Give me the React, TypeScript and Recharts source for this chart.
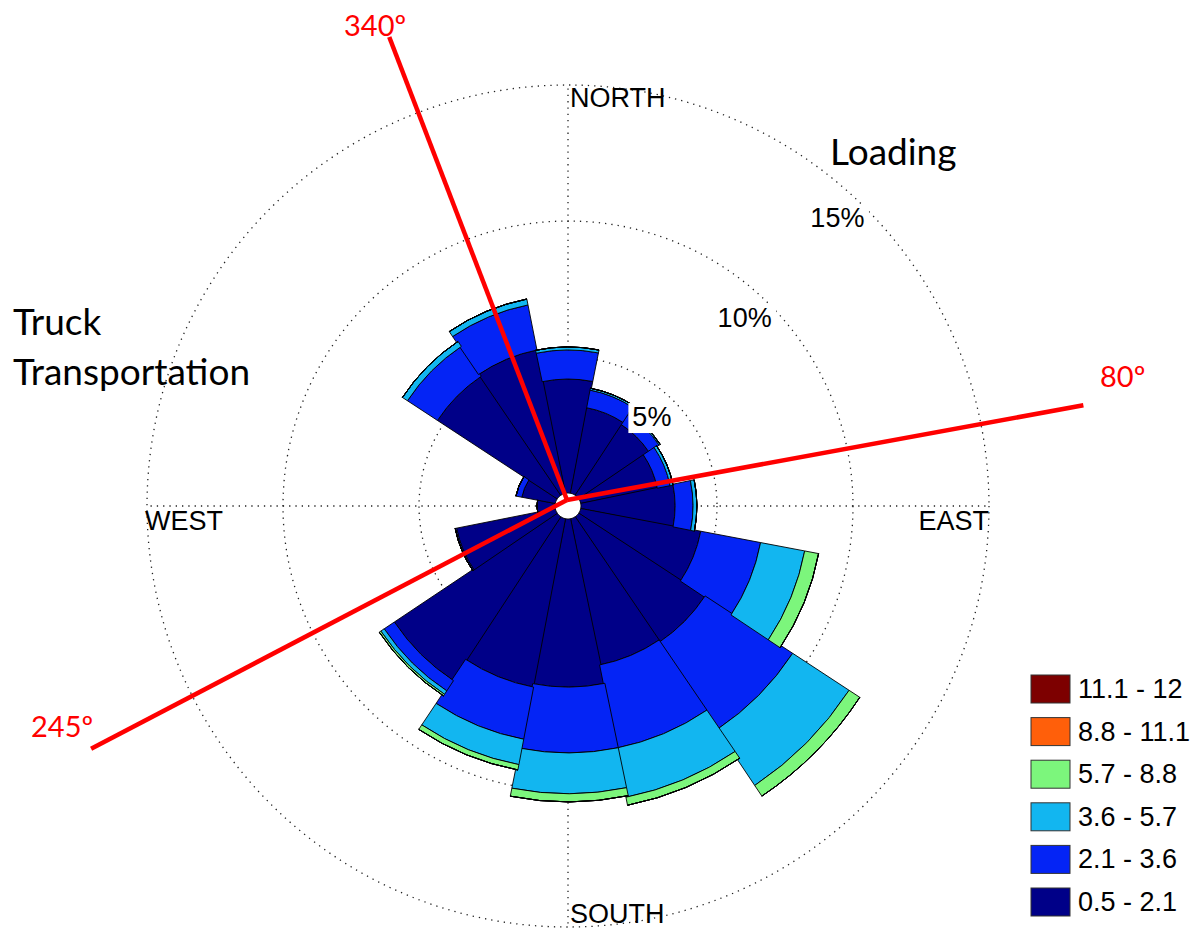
import React from "react";
import {
  RadialBarChart,
  RadialBar,
  PolarAngleAxis,
  PolarRadiusAxis,
  PolarGrid,
} from "recharts";

// 16 compass sectors, clockwise from north
const DIRECTIONS = [
  "N", "NNE", "NE", "ENE", "E", "ESE", "SE", "SSE",
  "S", "SSW", "SW", "WSW", "W", "WNW", "NW", "NNW",
];

// share of time (%) for each wind-speed class (m/s), per direction
const SPEED_05_21 = [4.19, 3.2, 3.1, 2.87, 3.46, 4.49, 5.55, 5.48, 6.18, 6.3, 7.2, 3.7, 0.66, 1.25, 5.26, 5.37];
const SPEED_21_36 = [1.07, 0.66, 0.45, 0.48, 0.66, 2.24, 3.85, 3.12, 2.42, 1.95, 0.45, 0.05, 0, 0.22, 1.32, 1.69];
const SPEED_36_57 = [0.11, 0.07, 0.05, 0.11, 0.14, 1.65, 2.48, 1.84, 1.5, 0.95, 0.15, 0, 0, 0, 0.22, 0.22];
const SPEED_57_88 = [0, 0, 0, 0, 0, 0.52, 0.47, 0.3, 0.3, 0.2, 0.07, 0, 0, 0, 0, 0];
const SPEED_88_111 = [0, 0, 0, 0, 0, 0, 0, 0, 0, 0, 0, 0, 0, 0, 0, 0];
const SPEED_111_12 = [0, 0, 0, 0, 0, 0, 0, 0, 0, 0, 0, 0, 0, 0, 0, 0];

const PERCENT_TICKS = [5, 10, 15];

// annotated directions (deg clockwise from north) as drawn in the figure
const MARKER_ANGLES = [339, 79.6, 242.4];
const MARKER_LABELS = ["340º", "80º", "245º"];

const SERIES = [
  { key: "s1", label: "0.5 - 2.1", color: "#000088", values: SPEED_05_21 },
  { key: "s2", label: "2.1 - 3.6", color: "#0424f5", values: SPEED_21_36 },
  { key: "s3", label: "3.6 - 5.7", color: "#12b6f0", values: SPEED_36_57 },
  { key: "s4", label: "5.7 - 8.8", color: "#7cf67c", values: SPEED_57_88 },
  { key: "s5", label: "8.8 - 11.1", color: "#ff5f0a", values: SPEED_88_111 },
  { key: "s6", label: "11.1 - 12", color: "#7d0000", values: SPEED_111_12 },
];

const W = 1201;
const H = 932;
const CX = 568;
const CY = 506;
const HOLE = 13;
const OUTER = 421;
const START = 78.75;
const LABEL_ANGLE = 47;

const AXIS_FONT = "'Liberation Sans', Arial, Helvetica, sans-serif";
const NOTE_FONT = "Lato, 'Open Sans', sans-serif";

const data = DIRECTIONS.map((dir, i) => {
  const row: Record<string, string | number> = { dir };
  SERIES.forEach((s) => {
    row[s.key] = s.values[i];
  });
  return row;
});

function PercentTick(props: any) {
  const { x, y, payload } = props;
  const a = (LABEL_ANGLE * Math.PI) / 180;
  const tx = x - 26 * Math.cos(a);
  const ty = y + 26 * Math.sin(a);
  const label = `${payload.value}%`;
  const w = label.length * 16 + 15;
  return (
    <g>
      <rect x={tx - w / 2} y={ty - 13} width={w} height={30} fill="#fff" />
      <text
        x={tx}
        y={ty}
        dy={10}
        textAnchor="middle"
        fontSize={27}
        fontFamily={AXIS_FONT}
        fill="#000"
      >
        {label}
      </text>
    </g>
  );
}

function Markers() {
  const ox = CX - 1;
  const oy = CY - 6;
  const lengths = [496, 525, 537];
  const labelPos = [
    { x: 344, y: 36 },
    { x: 1100, y: 387 },
    { x: 31, y: 737 },
  ];
  return (
    <g>
      {MARKER_ANGLES.map((deg, i) => {
        const a = (deg * Math.PI) / 180;
        return (
          <line
            key={deg}
            x1={ox}
            y1={oy}
            x2={ox + lengths[i] * Math.sin(a)}
            y2={oy - lengths[i] * Math.cos(a)}
            stroke="#ff0000"
            strokeWidth={4.5}
          />
        );
      })}
      {MARKER_LABELS.map((t, i) => (
        <text
          key={t}
          x={labelPos[i].x}
          y={labelPos[i].y}
          fontSize={29}
          fontFamily={NOTE_FONT}
          fill="#ff0000"
        >
          {t}
        </text>
      ))}
    </g>
  );
}

function SpeedLegend() {
  const rows = [...SERIES].reverse();
  return (
    <g>
      {rows.map((s, i) => {
        const top = 675 + i * 42.6;
        return (
          <g key={s.key}>
            <rect x={1031} y={top} width={39} height={28} fill={s.color} stroke="#333" strokeWidth={1} />
            <text x={1078} y={top + 23} fontSize={27} fontFamily={AXIS_FONT} fill="#000">
              {s.label}
            </text>
          </g>
        );
      })}
    </g>
  );
}

export default function App() {
  return (
    <div style={{ position: "absolute", left: 0, top: 0, width: W, height: H, background: "#fff" }}>
      <RadialBarChart
        width={W}
        height={H}
        data={data}
        layout="centric"
        cx={CX}
        cy={CY}
        innerRadius={HOLE}
        outerRadius={OUTER}
        startAngle={START}
        endAngle={START - 360}
        barCategoryGap={0}
        barGap={0}
        margin={{ top: 0, right: 0, bottom: 0, left: 0 }}
      >
        <PolarAngleAxis type="category" dataKey="dir" tick={false} axisLine={false} />
        {SERIES.map((s) => (
          <RadialBar
            key={s.key}
            dataKey={s.key}
            stackId="speed"
            fill={s.color}
            stroke="#000"
            strokeWidth={0.9}
            isAnimationActive={false}
          />
        ))}
        <PolarGrid
          gridType="circle"
          polarAngles={[0, 90, 180, 270]}
          stroke="#222"
          strokeWidth={1.3}
          strokeDasharray="1.3 5"
        />
        <PolarRadiusAxis
          type="number"
          domain={[0, 15]}
          ticks={PERCENT_TICKS}
          angle={LABEL_ANGLE}
          axisLine={false}
          tickLine={false}
          tick={(p: any) => <PercentTick {...p} />}
        />
      </RadialBarChart>
      <svg
        width={W}
        height={H}
        style={{ position: "absolute", left: 0, top: 0, pointerEvents: "none" }}
      >
        <Markers />
        <g fontFamily={AXIS_FONT} fontSize={27} fill="#000">
          <text x={570} y={107}>NORTH</text>
          <text x={570} y={923}>SOUTH</text>
          <text x={145} y={530}>WEST</text>
          <text x={989} y={530} textAnchor="end">EAST</text>
        </g>
        <g fontFamily={NOTE_FONT} fontSize={37} fill="#000">
          <text x={830} y={165}>Loading</text>
          <text x={13} y={335}>Truck</text>
          <text x={13} y={385}>Transportation</text>
        </g>
        <SpeedLegend />
      </svg>
    </div>
  );
}
